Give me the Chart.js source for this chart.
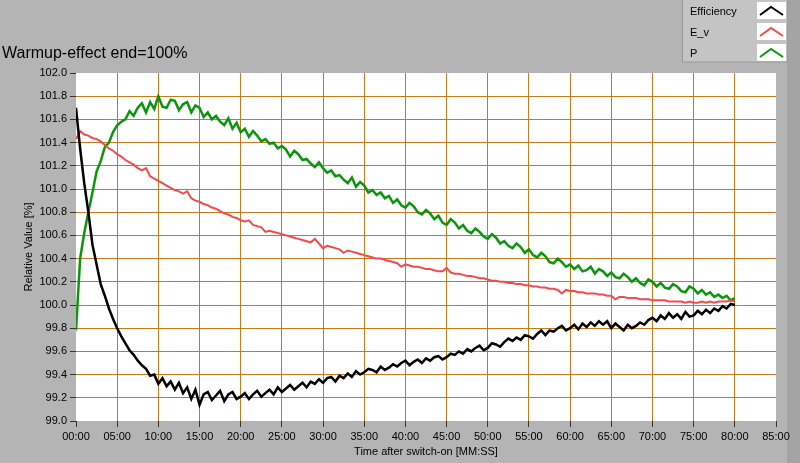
<!DOCTYPE html>
<html>
<head>
<meta charset="utf-8">
<script src="https://cdn.jsdelivr.net/npm/chart.js@4"></script>
<style>
  html, body { margin: 0; padding: 0; background: #b4b4b4; }
</style>
</head>
<body>
<canvas id="chart" width="800" height="463"></canvas>
<script>
// readings every 30 s, 00:00 .. 80:00
const sampleStep = 0.5;

const efficiency = [
  101.70, 101.35, 101.05, 100.80, 100.52, 100.35, 100.18, 100.08, 99.97, 99.88,
  99.80, 99.73, 99.67, 99.61, 99.57, 99.52, 99.48, 99.45, 99.39, 99.40,
  99.32, 99.37, 99.30, 99.34, 99.27, 99.33, 99.24, 99.29, 99.19, 99.27,
  99.14, 99.23, 99.25, 99.18, 99.22, 99.26, 99.17, 99.23, 99.25, 99.19,
  99.21, 99.24, 99.19, 99.23, 99.26, 99.21, 99.24, 99.27, 99.23, 99.29,
  99.25, 99.28, 99.31, 99.27, 99.30, 99.33, 99.29, 99.34, 99.32, 99.36,
  99.33, 99.37, 99.38, 99.34, 99.39, 99.37, 99.41, 99.38, 99.43, 99.40,
  99.42, 99.45, 99.44, 99.42, 99.47, 99.44, 99.46, 99.49, 99.47, 99.50,
  99.52, 99.48, 99.51, 99.53, 99.50, 99.54, 99.52, 99.55, 99.56, 99.53,
  99.55, 99.58, 99.57, 99.60, 99.58, 99.62, 99.60, 99.63, 99.65, 99.61,
  99.63, 99.67, 99.66, 99.64, 99.68, 99.71, 99.69, 99.72, 99.70, 99.74,
  99.73, 99.71, 99.75, 99.78, 99.74, 99.78, 99.77, 99.80, 99.82, 99.78,
  99.80, 99.83, 99.79, 99.84, 99.81, 99.85, 99.82, 99.86, 99.83, 99.86,
  99.80, 99.84, 99.81, 99.78, 99.83, 99.80, 99.82, 99.85, 99.83, 99.87,
  99.89, 99.86, 99.91, 99.88, 99.93, 99.89, 99.92, 99.88, 99.94, 99.90,
  99.91, 99.95, 99.92, 99.96, 99.93, 99.97, 99.95, 99.99, 99.97, 100.01,
  100.00
];

const illuminance = [
  101.43, 101.50, 101.47, 101.46, 101.44, 101.43, 101.41, 101.38, 101.35, 101.33,
  101.30, 101.28, 101.25, 101.23, 101.21, 101.18, 101.16, 101.18, 101.11, 101.09,
  101.07, 101.05, 101.03, 101.01, 100.99, 100.98, 100.96, 100.98, 100.92, 100.90,
  100.89, 100.87, 100.86, 100.84, 100.83, 100.81, 100.79, 100.78, 100.76, 100.75,
  100.73, 100.72, 100.73, 100.69, 100.68, 100.67, 100.63, 100.64, 100.63, 100.62,
  100.61, 100.60, 100.59, 100.58, 100.57, 100.56, 100.55, 100.54, 100.57, 100.53,
  100.49, 100.51, 100.50, 100.49, 100.48, 100.45, 100.47, 100.46, 100.45, 100.44,
  100.43, 100.42, 100.41, 100.40, 100.40, 100.39, 100.38, 100.37, 100.36, 100.33,
  100.35, 100.34, 100.33, 100.33, 100.32, 100.31, 100.31, 100.30, 100.29, 100.29,
  100.32, 100.28, 100.27, 100.27, 100.26, 100.25, 100.25, 100.24, 100.23, 100.23,
  100.22, 100.21, 100.21, 100.20, 100.20, 100.19, 100.19, 100.18, 100.18, 100.17,
  100.17, 100.16, 100.16, 100.15, 100.15, 100.14, 100.14, 100.13, 100.10, 100.13,
  100.12, 100.12, 100.11, 100.11, 100.10, 100.10, 100.10, 100.09, 100.09, 100.08,
  100.08, 100.05, 100.07, 100.07, 100.06, 100.06, 100.06, 100.05, 100.05, 100.05,
  100.04, 100.04, 100.04, 100.04, 100.03, 100.03, 100.03, 100.03, 100.02, 100.03,
  100.02, 100.02, 100.03, 100.02, 100.03, 100.02, 100.03, 100.03, 100.03, 100.04,
  100.03
];

const power = [
  99.78, 100.40, 100.62, 100.80, 100.97, 101.15, 101.24, 101.36, 101.40, 101.49,
  101.55, 101.58, 101.60, 101.67, 101.63, 101.70, 101.74, 101.66, 101.75, 101.69,
  101.80, 101.71, 101.70, 101.77, 101.76, 101.68, 101.73, 101.75, 101.66, 101.72,
  101.70, 101.62, 101.66, 101.60, 101.63, 101.58, 101.55, 101.61, 101.52, 101.57,
  101.49, 101.52, 101.45, 101.50, 101.46, 101.41, 101.43, 101.39, 101.40, 101.35,
  101.37, 101.34, 101.28, 101.33, 101.30, 101.25, 101.26, 101.22, 101.19, 101.23,
  101.18, 101.14, 101.16, 101.11, 101.12, 101.08, 101.05, 101.10, 101.02, 101.06,
  101.03, 100.97, 100.99, 100.95, 100.97, 100.92, 100.94, 100.88, 100.91, 100.86,
  100.84, 100.88, 100.85, 100.80, 100.78, 100.82, 100.79, 100.74, 100.77, 100.71,
  100.69, 100.74, 100.71, 100.66, 100.69, 100.64, 100.62, 100.66, 100.63, 100.59,
  100.57, 100.61, 100.58, 100.53, 100.55, 100.51, 100.49, 100.53, 100.50, 100.45,
  100.48, 100.43, 100.41, 100.45, 100.42, 100.37, 100.36, 100.40, 100.37, 100.33,
  100.35, 100.31, 100.34, 100.29, 100.30, 100.33, 100.27, 100.31, 100.29, 100.25,
  100.28, 100.24, 100.23, 100.27, 100.24, 100.20, 100.23, 100.19, 100.17, 100.22,
  100.20, 100.16, 100.19, 100.15, 100.14, 100.18, 100.16, 100.12, 100.11, 100.16,
  100.14, 100.10, 100.13, 100.09, 100.11, 100.07, 100.09, 100.06, 100.08, 100.04,
  100.06
];

const seriesNames = ["Efficiency", "E_v", "P"];
const seriesColors = ["#000000", "#f44a4a", "#0a960a"];
const seriesWidths = [2.5, 2, 2.5];
const titleText = "Warmup-effect end=100%";

const gridColor = "#c8781e";
const fontFamily = "'Liberation Sans', Arial, sans-serif";

const toPoints = (values) =>
  values.map((v, i) => ({ x: i * sampleStep, y: v }));

const mmss = (m) => String(m).padStart(2, "0") + ":00";

const backdrop = {
  id: "backdrop",
  beforeDraw(chart) {
    const { ctx, chartArea } = chart;
    ctx.save();
    ctx.fillStyle = "#b4b4b4";
    ctx.fillRect(0, 0, chart.width, chart.height);
    ctx.fillStyle = "#a4a4a4";
    ctx.fillRect(787, 0, 13, chart.height);
    ctx.fillStyle = "#ffffff";
    ctx.fillRect(chartArea.left, chartArea.top,
      chartArea.right - chartArea.left, chartArea.bottom - chartArea.top);
    ctx.restore();
  },
};

const decor = {
  id: "decor",
  afterDraw(chart) {
    const ctx = chart.ctx;
    ctx.save();
    // title
    ctx.fillStyle = "#000";
    ctx.font = "16px " + fontFamily;
    ctx.textBaseline = "alphabetic";
    ctx.textAlign = "left";
    ctx.fillText(titleText, 2, 58);

    // legend panel
    ctx.fillStyle = "#c4c4c4";
    ctx.fillRect(682, 0, 105, 62);
    ctx.strokeStyle = "#9a9a9a";
    ctx.lineWidth = 1;
    ctx.strokeRect(682.5, -1, 105, 63);
    ctx.font = "11px " + fontFamily;
    seriesNames.forEach((name, i) => {
      const top = 2 + i * 21;
      ctx.fillStyle = "#000";
      ctx.fillText(name, 690, top + 13);
      ctx.fillStyle = "#ffffff";
      ctx.fillRect(757, top, 29, 17);
      ctx.strokeStyle = seriesColors[i];
      ctx.lineWidth = 2;
      ctx.beginPath();
      ctx.moveTo(760, top + 13);
      ctx.lineTo(771, top + 5);
      ctx.lineTo(783, top + 13);
      ctx.stroke();
    });
    ctx.restore();
  },
};

const edgeHidden = (lo, hi) => (c) => {
  const v = c.tick ? c.tick.value : null;
  if (v === null) return gridColor;
  return Math.abs(v - lo) < 1e-6 || Math.abs(v - hi) < 1e-6 ? "rgba(0,0,0,0)" : gridColor;
};

new Chart(document.getElementById("chart"), {
  type: "line",
  data: {
    datasets: seriesNames.map((name, i) => ({
      label: name,
      data: toPoints([efficiency, illuminance, power][i]),
      borderColor: seriesColors[i],
      backgroundColor: seriesColors[i],
      borderWidth: seriesWidths[i],
      pointRadius: 0,
      tension: 0,
      fill: false,
    })),
  },
  options: {
    responsive: false,
    animation: false,
    events: [],
    layout: { padding: { top: 73, right: 24, bottom: 0, left: 0 } },
    plugins: {
      legend: { display: false },
      title: { display: false },
      tooltip: { enabled: false },
    },
    scales: {
      x: {
        type: "linear",
        min: 0,
        max: 85,
        afterFit: (s) => { s.height = 42; },
        ticks: {
          stepSize: 5,
          padding: 3,
          color: "#000",
          maxRotation: 0,
          autoSkip: false,
          font: { family: fontFamily, size: 11 },
          callback: (v) => mmss(v),
        },
        grid: {
          color: edgeHidden(0, 85),
          tickColor: "#333",
          tickLength: 6,
          lineWidth: 1,
        },
        border: { display: false },
        title: {
          display: true,
          text: "Time after switch-on [MM:SS]",
          color: "#000",
          font: { family: fontFamily, size: 11 },
          padding: { top: 0, bottom: 4 },
        },
      },
      y: {
        min: 99,
        max: 102,
        afterFit: (s) => { s.width = 76; },
        ticks: {
          stepSize: 0.2,
          padding: 3,
          color: "#000",
          autoSkip: false,
          font: { family: fontFamily, size: 11 },
          callback: (v) => v.toFixed(1),
        },
        grid: {
          color: edgeHidden(99, 102),
          tickColor: "#333",
          tickLength: 6,
          lineWidth: 1,
        },
        border: { display: false },
        title: {
          display: true,
          text: "Relative Value [%]",
          color: "#000",
          font: { family: fontFamily, size: 11 },
          padding: { top: 22, bottom: 0 },
        },
      },
    },
  },
  plugins: [backdrop, decor],
});
</script>
</body>
</html>
